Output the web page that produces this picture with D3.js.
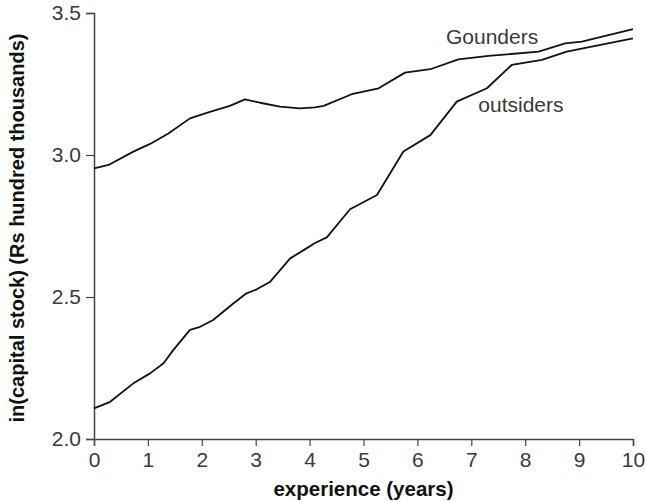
<!DOCTYPE html>
<html>
<head>
<meta charset="utf-8">
<script src="https://cdn.jsdelivr.net/npm/d3@7"></script>
<style>
  body { margin: 0; background: #fff; }
  text { font-family: "Liberation Sans", Arial, sans-serif; }
</style>
</head>
<body>
<div id="chart"></div>
<script>
/* ln capital stock by experience, Gounders vs outsiders */

const gounderYears  = [0, 0.27, 0.73, 1.04, 1.38, 1.78, 2.15, 2.52, 2.80, 3.08, 3.45, 3.82, 4.10, 4.26, 4.78, 5.28, 5.77, 6.24, 6.76, 7.32, 8.25, 8.74, 9.05, 10];
const gounderValues = [2.953, 2.965, 3.012, 3.039, 3.076, 3.129, 3.152, 3.173, 3.196, 3.184, 3.170, 3.164, 3.168, 3.173, 3.214, 3.235, 3.290, 3.302, 3.337, 3.349, 3.364, 3.393, 3.399, 3.443];

const outsiderYears  = [0, 0.30, 0.73, 1.04, 1.29, 1.47, 1.78, 1.97, 2.21, 2.59, 2.83, 3.02, 3.27, 3.64, 3.89, 4.10, 4.32, 4.75, 5.25, 5.74, 6.24, 6.73, 7.29, 7.75, 8.31, 8.77, 10];
const outsiderValues = [2.108, 2.131, 2.196, 2.231, 2.267, 2.313, 2.384, 2.395, 2.419, 2.478, 2.513, 2.527, 2.554, 2.636, 2.665, 2.690, 2.710, 2.809, 2.859, 3.012, 3.070, 3.188, 3.235, 3.317, 3.335, 3.364, 3.411];

const xTicks = [0, 1, 2, 3, 4, 5, 6, 7, 8, 9, 10];
const yTicks = [2.0, 2.5, 3.0, 3.5];

const series = [
    {name: "Gounders",  years: gounderYears,  values: gounderValues,  label: [6.53, 3.391]},
    {name: "outsiders", years: outsiderYears, values: outsiderValues, label: [7.13, 3.150]}
];

const width = 645,
      height = 502,
      margin = ({top: 13, right: 12, bottom: 63, left: 94});

let svg = d3.select("#chart")
    .append("svg")
    .attr("width", width)
    .attr("height", height);

let x = d3.scaleLinear()
    .domain([0, 10])
    .range([margin.left, width - margin.right]);

let y = d3.scaleLinear()
    .domain([2.0, 3.5])
    .range([height - margin.bottom, margin.top]);

let xAxis = svg.append("g")
    .attr("transform", `translate(0, ${height - margin.bottom})`)
    .call(d3.axisBottom(x).tickValues(xTicks).tickSize(7).tickPadding(6).tickFormat(d3.format("d")));

let yAxis = svg.append("g")
    .attr("transform", `translate(${margin.left}, 0)`)
    .call(d3.axisLeft(y).tickValues(yTicks).tickSize(8).tickPadding(5).tickFormat(d3.format(".1f")));

for (let g of [xAxis, yAxis]) {
    g.select(".domain").attr("stroke", "#444").attr("stroke-width", 1.5);
    g.selectAll(".tick line").attr("stroke", "#444").attr("stroke-width", 1.2);
    g.selectAll(".tick text")
        .attr("fill", "#3a3a3a")
        .style("font-size", "21px")
        .style("font-family", "'Liberation Sans', Arial, sans-serif");
}

let line = d3.line()
    .x(d => x(d[0]))
    .y(d => y(d[1]));

for (let s of series) {
    let pts = s.years.map((yr, i) => [yr, s.values[i]]);
    svg.append("path")
        .datum(pts)
        .attr("fill", "none")
        .attr("stroke", "#111")
        .attr("stroke-width", 1.8)
        .attr("stroke-linejoin", "round")
        .attr("d", line);

    svg.append("text")
        .attr("x", x(s.label[0]))
        .attr("y", y(s.label[1]))
        .attr("fill", "#3a3a3a")
        .style("font-size", "21px")
        .text(s.name);
}

svg.append("text")
    .attr("x", (margin.left + width - margin.right) / 2)
    .attr("y", 496)
    .attr("text-anchor", "middle")
    .attr("fill", "#111")
    .style("font-size", "20.5px")
    .style("font-weight", "bold")
    .text("experience (years)");

svg.append("text")
    .attr("transform", `translate(24, ${(margin.top + height - margin.bottom) / 2 + 2}) rotate(-90)`)
    .attr("text-anchor", "middle")
    .attr("fill", "#111")
    .style("font-size", "20px")
    .style("font-weight", "bold")
    .text("in(capital stock) (Rs hundred thousands)");
</script>
</body>
</html>
